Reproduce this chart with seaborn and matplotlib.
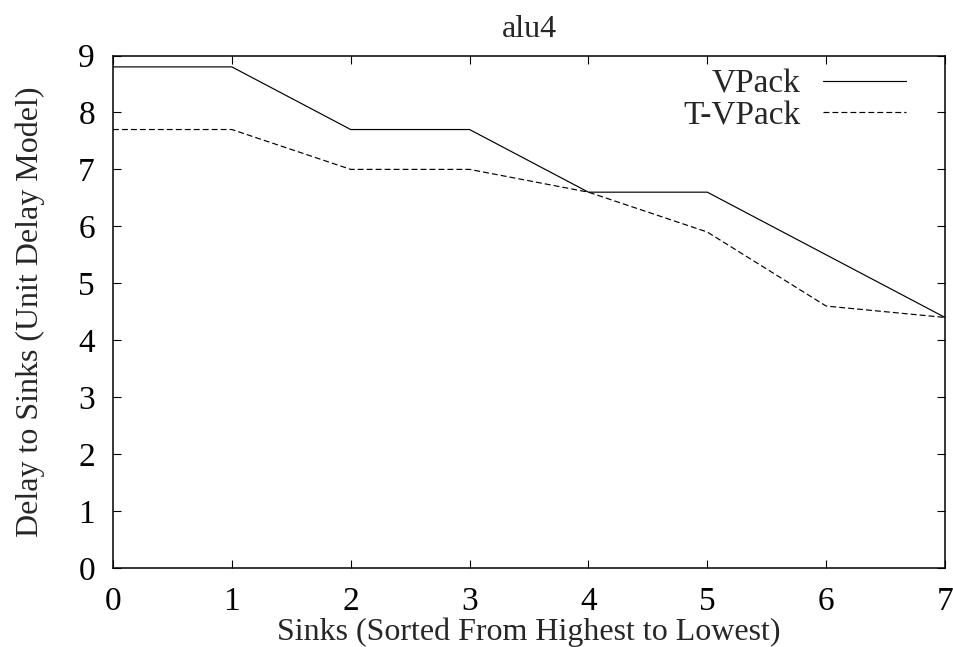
import matplotlib
matplotlib.use("Agg")
import matplotlib.pyplot as plt
import seaborn as sns
import pandas as pd

sinks = [0, 1, 2, 3, 4, 5, 6, 7]
vpack = [8.8, 8.8, 7.7, 7.7, 6.6, 6.6, 5.5, 4.4]
tvpack = [7.7, 7.7, 7.0, 7.0, 6.6, 5.9, 4.6, 4.4]
series_names = ["VPack", "T-VPack"]
x_ticks = [0, 1, 2, 3, 4, 5, 6, 7]
y_ticks = [0, 1, 2, 3, 4, 5, 6, 7, 8, 9]

sns.set_theme(style="white")
plt.rcParams["font.family"] = ["Liberation Serif", "DejaVu Serif"]
plt.rcParams["font.size"] = 24

df = pd.concat([
    pd.DataFrame({"sink": sinks, "delay": vpack, "algo": series_names[0]}),
    pd.DataFrame({"sink": sinks, "delay": tvpack, "algo": series_names[1]}),
])

fig = plt.figure(figsize=(9.54, 6.47), dpi=100)
ax = fig.add_axes([113 / 954, 1 - 568 / 647, (945 - 113) / 954, (568 - 55.5) / 647])

dash = (5, 2.6)
sns.lineplot(data=df, x="sink", y="delay", hue="algo", style="algo",
             palette=["black", "black"], dashes=[(None, None), dash],
             linewidth=0.85, ax=ax, legend=False)

handles = [
    plt.Line2D([], [], color="black", linewidth=0.85),
    plt.Line2D([], [], color="black", linewidth=0.85, dashes=dash),
]
ax.legend(handles, series_names, loc="upper right", frameon=False,
          markerfirst=False, fontsize=24, handlelength=2.5,
          handletextpad=0.65, labelspacing=0.04, borderaxespad=0.0,
          borderpad=0.0, bbox_to_anchor=(0.953, 0.974))

ax.set_xlim(0, 7)
ax.set_ylim(0, 9)
ax.set_xticks(x_ticks)
ax.set_yticks(y_ticks)
ax.tick_params(direction="in", length=6, width=0.8, top=True, right=True,
               bottom=True, left=True, labelsize=24, pad=13, colors="black")
for s in ax.spines.values():
    s.set_color("black")
    s.set_linewidth(1.1)

ax.set_title("alu4", fontsize=23, pad=13)
ax.set_xlabel("Sinks (Sorted From Highest to Lowest)", fontsize=23, labelpad=1)
ax.set_ylabel("Delay to Sinks (Unit Delay Model)", fontsize=23, labelpad=24)

fig.savefig("out.png", dpi=100)
